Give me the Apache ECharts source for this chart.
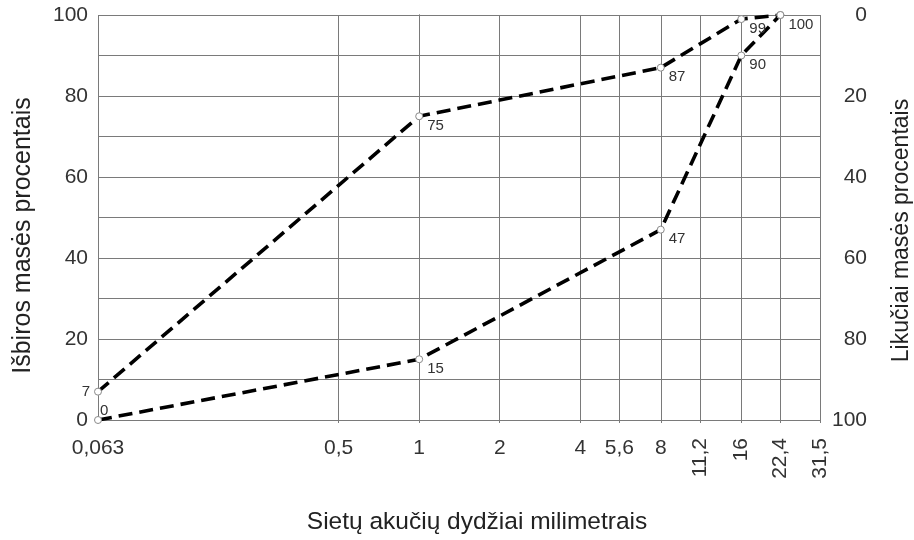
<!DOCTYPE html>
<html>
<head>
<meta charset="utf-8">
<script src="https://cdn.jsdelivr.net/npm/echarts@6/dist/echarts.min.js"></script>
<style>html,body{margin:0;padding:0;background:#fff}#c{width:914px;height:540px}</style>
</head>
<body>
<div id="c"></div>
<script>
// Sieve sizes (mm) and tick labels
const sieveSizes = [0.063, 0.5, 1, 2, 4, 5.6, 8, 11.2, 16, 22.4, 31.5];
const tickLabels = ['0,063', '0,5', '1', '2', '4', '5,6', '8', '11,2', '16', '22,4', '31,5'];
const horizontalTickSizes = [0.063, 0.5, 1, 2, 4, 5.6, 8];
const rotatedTickSizes = [11.2, 16, 22.4, 31.5];
// Measured points
const pointSizes = [0.063, 1, 8, 16, 22.4];
const upperPassing = [7, 75, 87, 99, 100];
const lowerPassing = [0, 15, 47, 90, 100];
const yTicks = [0, 20, 40, 60, 80, 100];

const lg = v => Math.log2(v);
const xMin = lg(sieveSizes[0]);
const xMax = lg(sieveSizes[sieveSizes.length - 1]);
const fmtX = v => {
  let best = 0, bd = Infinity;
  sieveSizes.forEach((s, i) => { const d = Math.abs(lg(s) - v); if (d < bd) { bd = d; best = i; } });
  return tickLabels[best];
};
const FONT = 'Liberation Sans, Arial, sans-serif';
const gridColor = '#7a7a7a';

const baseLabel = {show: true, position: [12, 6], align: 'left', verticalAlign: 'top',
  fontSize: 15, color: '#333', fontFamily: FONT, formatter: p => String(p.value[1])};

function buildData(values, overrides) {
  return pointSizes.map((s, i) => {
    const item = {value: [lg(s), values[i]]};
    if (overrides[i]) item.label = overrides[i];
    return item;
  });
}

const upperData = buildData(upperPassing, {
  0: {position: 'left', distance: 4, align: 'right', verticalAlign: 'middle'},
  4: {show: false}
});
const lowerData = buildData(lowerPassing, {
  0: {position: [6, -13]}
});

const lineSeries = (data) => ({
  type: 'line',
  data: data,
  xAxisIndex: 0,
  yAxisIndex: 0,
  symbol: 'circle',
  symbolSize: 7,
  showAllSymbol: true,
  itemStyle: {color: '#fff', borderColor: '#8a8a8a', borderWidth: 1},
  lineStyle: {color: '#000', width: 3.6, type: [14, 7]},
  label: baseLabel,
  emphasis: {disabled: true},
  z: 3
});

const chart = echarts.init(document.getElementById('c'), null, {renderer: 'canvas'});
chart.setOption({
  animation: false,
  backgroundColor: '#fff',
  textStyle: {fontFamily: FONT},
  grid: {left: 98, right: 94, top: 15, bottom: 120, containLabel: false, outerBoundsMode: 'none'},
  xAxis: [{
    type: 'value', min: xMin, max: xMax, position: 'bottom',
    name: 'Sietų akučių dydžiai milimetrais', nameLocation: 'middle', nameGap: 90,
    nameTextStyle: {fontSize: 24.5, color: '#222', fontFamily: FONT, padding: [0, 0, 0, 36]},
    axisLine: {show: true, onZero: false, lineStyle: {color: gridColor, width: 1}},
    axisTick: {show: true, length: 3, inside: false, customValues: sieveSizes.map(lg), lineStyle: {color: gridColor}},
    splitLine: {show: true, lineStyle: {color: gridColor, width: 1}},
    axisLabel: {customValues: horizontalTickSizes.map(lg), formatter: fmtX, margin: 18,
      fontSize: 21, color: '#333', fontFamily: FONT, hideOverlap: false}
  }, {
    type: 'value', min: xMin, max: xMax, position: 'bottom', offset: 0,
    axisLine: {show: false, onZero: false},
    axisTick: {show: false},
    splitLine: {show: false},
    axisLabel: {customValues: rotatedTickSizes.map(lg), formatter: fmtX, margin: 18, rotate: 90,
      fontSize: 21, color: '#333', fontFamily: FONT, hideOverlap: false}
  }],
  yAxis: [{
    type: 'value', min: 0, max: 100, interval: 10, position: 'left',
    name: 'Išbiros masės procentais', nameLocation: 'middle', nameGap: 62,
    nameTextStyle: {fontSize: 25, color: '#222', fontFamily: FONT, padding: [0, 36, 0, 0]},
    axisLine: {show: true, lineStyle: {color: gridColor, width: 1}},
    axisTick: {show: false},
    splitLine: {show: true, lineStyle: {color: gridColor, width: 1}},
    axisLabel: {margin: 10, fontSize: 21, color: '#333', fontFamily: FONT,
      formatter: v => (yTicks.indexOf(v) >= 0 ? String(v) : '')}
  }, {
    type: 'value', min: 0, max: 100, interval: 20, position: 'right', inverse: true,
    name: 'Likučiai masės procentais', nameLocation: 'middle', nameGap: 70,
    nameTextStyle: {fontSize: 23, color: '#222', fontFamily: FONT, padding: [0, 26, 0, 0]},
    axisLine: {show: true, lineStyle: {color: gridColor, width: 1}},
    axisTick: {show: true, length: 2, lineStyle: {color: gridColor}},
    splitLine: {show: false},
    axisLabel: {margin: 47, align: 'right', fontSize: 21, color: '#333', fontFamily: FONT}
  }],
  series: [lineSeries(upperData), lineSeries(lowerData)]
});
</script>
</body>
</html>
